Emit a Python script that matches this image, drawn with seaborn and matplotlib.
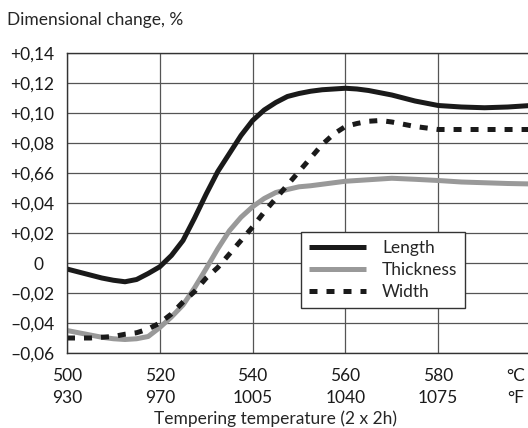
import matplotlib
matplotlib.use("Agg")
import matplotlib.pyplot as plt
from matplotlib.transforms import ScaledTranslation
import pandas as pd
import seaborn as sns

temp_c = [500, 502.5, 505, 507.5, 510, 512.5, 515, 517.5, 520, 522.5, 525, 527.5,
          530, 532.5, 535, 537.5, 540, 542.5, 545, 547.5, 550, 552.5, 555, 557.5,
          560, 562.5, 565, 567.5, 570, 575, 580, 585, 590, 595, 600]

length = [-0.004, -0.006, -0.008, -0.010, -0.0115, -0.0125, -0.011, -0.007, -0.0025, 0.005,
          0.015, 0.030, 0.046, 0.061, 0.073, 0.085, 0.095, 0.102, 0.107, 0.111,
          0.113, 0.1145, 0.1155, 0.116, 0.1165, 0.116, 0.115, 0.1135, 0.112, 0.108,
          0.105, 0.104, 0.1035, 0.104, 0.105]

thickness = [-0.045, -0.0465, -0.048, -0.0495, -0.0505, -0.051, -0.0505, -0.049, -0.043, -0.036,
             -0.028, -0.0165, -0.0037, 0.0095, 0.0215, 0.0305, 0.0375, 0.043, 0.047, 0.049,
             0.0508, 0.0515, 0.0525, 0.0535, 0.0545, 0.055, 0.0555, 0.056, 0.0565, 0.0558,
             0.055, 0.054, 0.0535, 0.053, 0.0527]

width = [-0.050, -0.050, -0.050, -0.0495, -0.049, -0.0475, -0.0465, -0.044, -0.040, -0.034,
         -0.026, -0.019, -0.010, -0.003, 0.006, 0.015, 0.024, 0.034, 0.043, 0.052,
         0.061, 0.070, 0.079, 0.086, 0.091, 0.093, 0.0945, 0.095, 0.094, 0.091,
         0.089, 0.089, 0.089, 0.089, 0.089]

x_ticks = [500, 520, 540, 560, 580, 600]
x_labels_c = ["500", "520", "540", "560", "580", "°C"]
x_labels_f = ["930", "970", "1005", "1040", "1075", "°F"]

y_ticks = [-0.06, -0.04, -0.02, 0, 0.02, 0.04, 0.06, 0.08, 0.10, 0.12, 0.14]
y_labels = ["–0,06", "–0,04", "–0,02", "0", "+0,02", "+0,04", "+0,66", "+0,08",
            "+0,10", "+0,12", "+0,14"]

df = pd.DataFrame({"temp": temp_c, "Length": length, "Thickness": thickness, "Width": width})

sns.set_style("white")
plt.rcParams["font.family"] = ["Lato", "DejaVu Sans"]

fig = plt.figure(figsize=(5.28, 4.28), dpi=100)
ax = fig.add_axes([67 / 528, 1 - 353 / 428, 464 / 528, 300 / 428])

sns.lineplot(data=df, x="temp", y="Length", ax=ax, color="#1a1a1a", lw=3.6,
             label="Length", solid_capstyle="butt")
sns.lineplot(data=df, x="temp", y="Thickness", ax=ax, color="#999999", lw=3.6,
             label="Thickness", solid_capstyle="butt")
sns.lineplot(data=df, x="temp", y="Width", ax=ax, color="#1a1a1a", lw=3.6,
             linestyle=(0, (1.6, 1.8)), label="Width", dash_capstyle="butt")

ax.set_xlim(500, 600)
ax.set_ylim(-0.06, 0.14)
ax.set_xticks(x_ticks)
ax.set_xticklabels([c + "\n" + f for c, f in zip(x_labels_c, x_labels_f)],
                   linespacing=1.45)
ax.set_yticks(y_ticks)
ax.set_yticklabels(y_labels)
ax.tick_params(length=0, labelsize=12.5, colors="#1a1a1a")
ax.tick_params(axis="y", pad=9)
ax.tick_params(axis="x", pad=11)
ax.grid(True, color="#555555", lw=0.9)
for s in ax.spines.values():
    s.set_color("#333333")
    s.set_linewidth(1.0)
ax.set_xlabel("")
ax.set_ylabel("")

# the zero label sits a bit to the right of the others
for t in ax.yaxis.get_major_ticks():
    if t.label1.get_text() == "0":
        t.label1.set_transform(t.label1.get_transform() + ScaledTranslation(-11 / 100, 0, fig.dpi_scale_trans))
# unit labels at the right edge pulled in so they stay on the page
for t in ax.xaxis.get_major_ticks():
    if t.label1.get_text().startswith("°C"):
        t.label1.set_transform(t.label1.get_transform() + ScaledTranslation(-15 / 100, 0, fig.dpi_scale_trans))

leg = ax.legend(loc="lower right", bbox_to_anchor=(0.858, 0.15), fontsize=12.5,
                frameon=True, fancybox=False, framealpha=1, edgecolor="#333333",
                handlelength=3.3, handletextpad=0.9, labelspacing=0.35, borderpad=0.45,
                borderaxespad=0)
leg.get_frame().set_linewidth(1.0)

fig.text(7 / 528, 1 - 20 / 428, "Dimensional change, %", fontsize=12.5, va="center", ha="left")
fig.text(275 / 528, 1 - 419 / 428, "Tempering temperature (2 x 2h)", fontsize=12.5,
         va="center", ha="center")

fig.savefig("out.png", dpi=100)
